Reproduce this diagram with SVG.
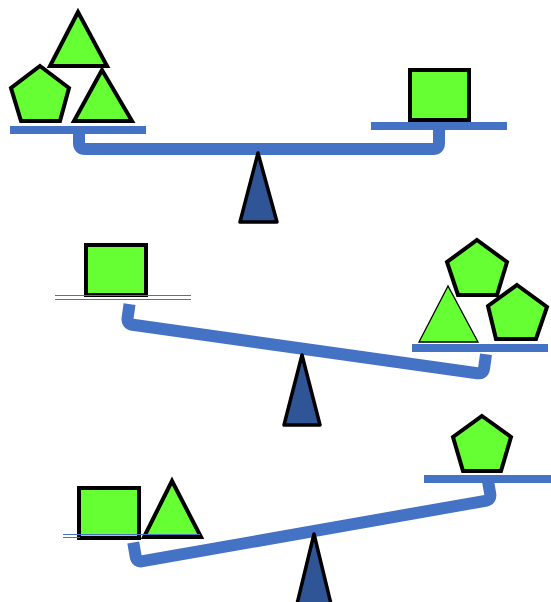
<svg xmlns="http://www.w3.org/2000/svg" width="551" height="602" viewBox="0 0 551 602">
<style>
.beam{fill:none;stroke:#4472C4;stroke-width:12;stroke-linejoin:round}
.pan{fill:#4472C4}
.thin{stroke:#4472C4;stroke-width:1;fill:none}
.fulcrum{fill:#2F5597;stroke:#000;stroke-width:3.5;stroke-linejoin:round}
.shape{fill:#66FF33;stroke:#000;stroke-width:4;stroke-linejoin:miter}
</style>
<defs>
<path id="beamShape" d="M-180,-20 L-180,-6 Q-180,0 -174,0 L174,0 Q180,0 180,-6 L180,-20"/>
</defs>
<rect width="551" height="602" fill="#fff"/>
<g id="connectors">
<use href="#beamShape" class="beam" transform="translate(259,149)"/>
<use href="#beamShape" class="beam" transform="translate(305,349) rotate(8)"/>
<use href="#beamShape" class="beam" transform="translate(314,531) rotate(-10)"/>
</g>
<g id="scale1">
<rect class="pan" x="10" y="126" width="136" height="8"/>
<rect class="pan" x="371" y="122" width="136" height="8"/>
<polygon id="fulcrum1" class="fulcrum" points="258,153 240,222 277,222"/>
<polygon id="s1-tri-top" class="shape" points="78,12 50,66 107,66"/>
<polygon id="s1-pent" class="shape" points="40,66 69,88 60,121 21,121 11,88"/>
<polygon id="s1-tri-low" class="shape" points="102,70 74,121 132,121"/>
<rect id="s1-square" class="shape" x="410" y="70" width="59" height="50"/>
</g>
<g id="scale2">
<rect class="pan" x="412" y="344" width="136" height="8"/>
<polygon id="fulcrum2" class="fulcrum" points="302,355 284,425 320,425"/>
<rect id="s2-square" class="shape" x="86" y="245" width="60" height="50"/>
<line class="thin" x1="55" y1="295.5" x2="191" y2="295.5"/>
<line class="thin" x1="55" y1="299.5" x2="191" y2="299.5"/>
<polygon id="s2-tri" points="448,286 419,342 478,342" fill="#66FF33" stroke="#000" stroke-width="1.3"/>
<polygon id="s2-pent-top" class="shape" points="477,240 507,262 497,295 458,295 447,262"/>
<polygon id="s2-pent-right" class="shape" points="517,285 547,307 536,339 496,339 488,306"/>
</g>
<g id="scale3">
<rect class="pan" x="424" y="475" width="127" height="8"/>
<polygon id="fulcrum3" class="fulcrum" points="314,534 297,604 331,604"/>
<rect id="s3-square" class="shape" x="79" y="488" width="60" height="50"/>
<polygon id="s3-tri" class="shape" points="172,481 144,537 201,537"/>
<line class="thin" x1="63" y1="534.5" x2="200" y2="534.5"/>
<line class="thin" x1="63" y1="537.5" x2="80" y2="537.5"/>
<polygon id="s3-pent" class="shape" points="482,416 511,437 501,471 463,471 453,437"/>
</g>
</svg>
